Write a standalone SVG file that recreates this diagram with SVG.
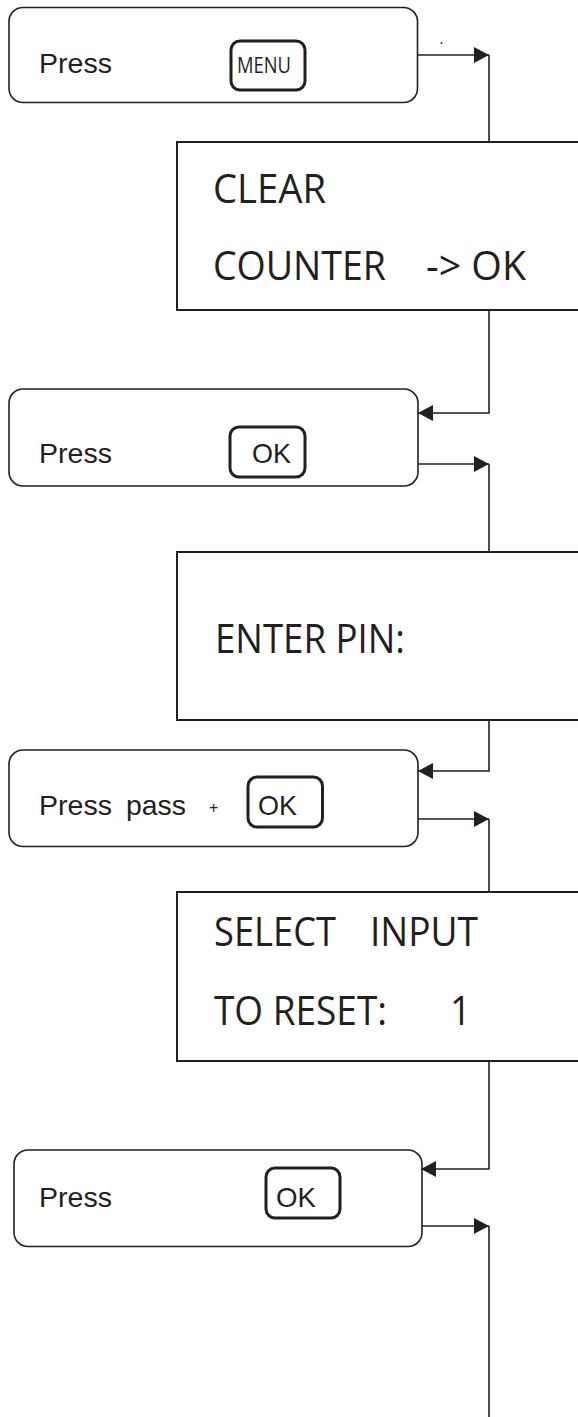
<svg xmlns="http://www.w3.org/2000/svg" width="578" height="1417" viewBox="0 0 578 1417">
<style>
.step{fill:#fff;stroke:#231f20;stroke-width:1.6}
.btn{fill:#fff;stroke:#231f20;stroke-width:3}
.disp{fill:#fff;stroke:#231f20;stroke-width:2}
.lbl{font-family:"Liberation Sans",Arial,sans-serif;font-size:28px;fill:#231f20}
.key{font-family:"Liberation Sans",Arial,sans-serif;font-size:28px;fill:#231f20}
.lcd{font-family:"Open Sans","Noto Sans",sans-serif;font-size:41px;fill:#231f20}
.conn{fill:none;stroke:#231f20;stroke-width:1.6}
</style>
<defs>
<marker id="ah" markerUnits="userSpaceOnUse" markerWidth="16" markerHeight="16" refX="15" refY="8" orient="auto">
<path d="M0,0 L15,8 L0,16 z" fill="#231f20"/>
</marker>
</defs>
<rect width="578" height="1417" fill="#fff"/>

<g id="step1">
<rect class="step" x="9" y="7.5" width="408.5" height="95" rx="14"/>
<text class="lbl" x="39" y="73" textLength="73" lengthAdjust="spacingAndGlyphs">Press</text>
<rect class="btn" x="231" y="41" width="74" height="49" rx="9"/>
<text x="237" y="73" font-family="'Open Sans','Noto Sans',sans-serif" font-size="22" fill="#231f20" textLength="54" lengthAdjust="spacingAndGlyphs">MENU</text>
<circle cx="441.5" cy="43" r="0.9" fill="#231f20"/>
</g>

<g id="display1">
<rect class="disp" x="177" y="142" width="420" height="168"/>
<text class="lcd" x="213" y="203" textLength="113" lengthAdjust="spacingAndGlyphs">CLEAR</text>
<text class="lcd" y="280"><tspan x="213" textLength="173" lengthAdjust="spacingAndGlyphs">COUNTER</tspan><tspan x="426" textLength="100" lengthAdjust="spacingAndGlyphs">-&gt; OK</tspan></text>
</g>

<g id="step2">
<rect class="step" x="9" y="389" width="409" height="97" rx="14"/>
<text class="lbl" x="39" y="463" textLength="73" lengthAdjust="spacingAndGlyphs">Press</text>
<rect class="btn" x="230" y="427" width="75" height="50" rx="9"/>
<text class="key" x="252" y="463" textLength="39" lengthAdjust="spacingAndGlyphs">OK</text>
</g>

<g id="display2">
<rect class="disp" x="177" y="552" width="420" height="168"/>
<text class="lcd" x="215" y="653" textLength="190" lengthAdjust="spacingAndGlyphs">ENTER PIN:</text>
</g>

<g id="step3">
<rect class="step" x="9" y="750" width="409" height="96.5" rx="14"/>
<text class="lbl" y="815"><tspan x="39" textLength="73" lengthAdjust="spacingAndGlyphs">Press</tspan><tspan x="126" textLength="60" lengthAdjust="spacingAndGlyphs">pass</tspan></text>
<text x="209" y="813" font-family="'Liberation Sans',Arial,sans-serif" font-size="16" fill="#231f20">+</text>
<rect class="btn" x="248" y="777" width="74.5" height="50" rx="9"/>
<text class="key" x="258" y="815" textLength="39" lengthAdjust="spacingAndGlyphs">OK</text>
</g>

<g id="display3">
<rect class="disp" x="177" y="892" width="420" height="169"/>
<text class="lcd" y="946"><tspan x="214" textLength="122" lengthAdjust="spacingAndGlyphs">SELECT</tspan><tspan x="370" textLength="108" lengthAdjust="spacingAndGlyphs">INPUT</tspan></text>
<text class="lcd" y="1025"><tspan x="214" textLength="173" lengthAdjust="spacingAndGlyphs">TO RESET:</tspan><tspan x="450" textLength="21" lengthAdjust="spacingAndGlyphs">1</tspan></text>
</g>

<g id="step4">
<rect class="step" x="14" y="1150" width="408" height="96.5" rx="14"/>
<text class="lbl" x="39" y="1207" textLength="73" lengthAdjust="spacingAndGlyphs">Press</text>
<rect class="btn" x="266" y="1168" width="74" height="50" rx="9"/>
<text class="key" x="276" y="1207" textLength="40" lengthAdjust="spacingAndGlyphs">OK</text>
</g>

<g id="connectors">
<path class="conn" d="M417.5,55 H489" marker-end="url(#ah)"/>
<path class="conn" d="M489,55 V142"/>
<path class="conn" d="M489,310 V413 H418" marker-end="url(#ah)"/>
<path class="conn" d="M418,464 H489" marker-end="url(#ah)"/>
<path class="conn" d="M489,464 V552"/>
<path class="conn" d="M489,720 V771 H418" marker-end="url(#ah)"/>
<path class="conn" d="M418,819 H489" marker-end="url(#ah)"/>
<path class="conn" d="M489,819 V892"/>
<path class="conn" d="M489,1061 V1169 H421" marker-end="url(#ah)"/>
<path class="conn" d="M422,1226 H489" marker-end="url(#ah)"/>
<path class="conn" d="M489,1226 V1417"/>
</g>
</svg>
